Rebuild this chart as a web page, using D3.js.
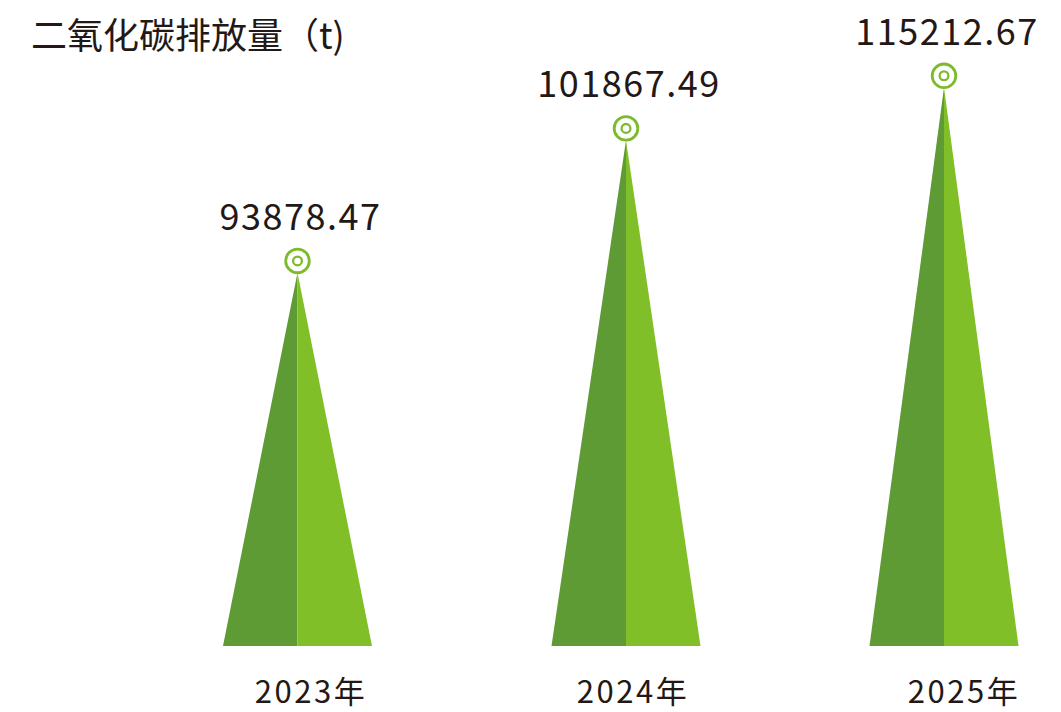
<!DOCTYPE html>
<html>
<head>
<meta charset="utf-8">
<script src="https://cdn.jsdelivr.net/npm/d3@7/dist/d3.min.js"></script>
<style>
  html, body { margin: 0; padding: 0; background: #ffffff; }
  svg { display: block; }
</style>
</head>
<body>
<svg id="chart" width="1061" height="712"></svg>
<script>
// ---- data ----
const title = "二氧化碳排放量（t)";
const years = ["2023年", "2024年", "2025年"];
const emissions = [93878.47, 101867.49, 115212.67];
const valueLabels = ["93878.47", "101867.49", "115212.67"];
const BASELINE = 93000; // pictorial baseline the heights grow from

// ---- layout ----
const baseY = 646;
const halfBase = 74.5;
const markerR = 11.8;
const darkGreen = "#5f9b35";
const lightGreen = "#81bf29";
const markerColor = "#7dbb2b";
const textColor = "#231815";
const font = "'Noto Sans CJK SC', 'Noto Sans', sans-serif";

const svg = d3.select("#chart");

const x = d3.scaleOrdinal().domain(years).range([297.5, 626, 944]);
const xLabel = d3.scaleOrdinal().domain(years).range([311, 633, 964]);
// heights are pictorial (not proportional); log scale above a baseline
const y = d3.scaleLog().domain([1000, 20000]).range([253.5, 81.8]);

const data = years.map((yr, i) => ({
  year: yr, value: emissions[i], label: valueLabels[i],
  cx: x(yr), cy: y(emissions[i] - BASELINE)
}));

// title
svg.append("text")
  .attr("x", 31).attr("y", 49)
  .attr("font-family", font)
  .attr("font-size", 36)
  .attr("fill", textColor)
  .text(title);

const g = svg.append("g").selectAll("g").data(data).join("g");

// left (dark) half
g.append("path")
  .attr("fill", darkGreen)
  .attr("d", d => {
    const ay = d.cy + markerR;
    return `M${d.cx},${ay} L${d.cx - halfBase},${baseY} L${d.cx},${baseY} Z`;
  });
// right (light) half
g.append("path")
  .attr("fill", lightGreen)
  .attr("d", d => {
    const ay = d.cy + markerR;
    return `M${d.cx},${ay} L${d.cx},${baseY} L${d.cx + halfBase},${baseY} Z`;
  });

// marker rings
g.append("circle")
  .attr("cx", d => d.cx).attr("cy", d => d.cy)
  .attr("r", markerR)
  .attr("fill", "#ffffff")
  .attr("stroke", markerColor)
  .attr("stroke-width", 2.8);
g.append("circle")
  .attr("cx", d => d.cx).attr("cy", d => d.cy)
  .attr("r", 4.4)
  .attr("fill", "none")
  .attr("stroke", markerColor)
  .attr("stroke-width", 2.3);

// value labels
g.append("text")
  .attr("x", d => d.cx + 3)
  .attr("y", d => d.cy - 31)
  .attr("text-anchor", "middle")
  .attr("font-family", font)
  .attr("font-size", 36)
  .attr("letter-spacing", 1.5)
  .attr("fill", textColor)
  .text(d => d.label);

// year labels
g.append("text")
  .attr("x", d => xLabel(d.year))
  .attr("y", 703)
  .attr("text-anchor", "middle")
  .attr("font-family", font)
  .attr("font-size", 31)
  .attr("letter-spacing", 2.5)
  .attr("fill", textColor)
  .text(d => d.year);
</script>
</body>
</html>
